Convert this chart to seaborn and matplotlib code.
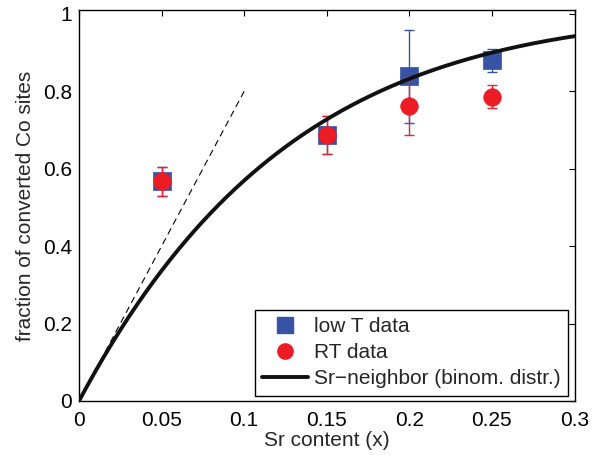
import numpy as np
import pandas as pd
import matplotlib
matplotlib.use("Agg")
import matplotlib.pyplot as plt
import seaborn as sns
from matplotlib.lines import Line2D

# ---------------- data ----------------
x_lowT = [0.05, 0.15, 0.20, 0.25]
y_lowT = [0.567, 0.687, 0.840, 0.880]
err_lowT_lo = [0.037, 0.049, 0.121, 0.030]
err_lowT_hi = [0.038, 0.050, 0.119, 0.029]

x_RT = [0.05, 0.15, 0.20, 0.25]
y_RT = [0.567, 0.687, 0.762, 0.786]
err_RT_lo = [0.037, 0.049, 0.075, 0.030]
err_RT_hi = [0.038, 0.050, 0.076, 0.031]

# model: probability of at least one Sr neighbour among n sites (binomial)
n_neighbors = 8
x_model = np.linspace(0.0, 0.3, 301)
y_model = 1.0 - (1.0 - x_model) ** n_neighbors

# initial slope line
x_slope = [0.0, 0.1]
y_slope = [0.0, 0.8]

x_ticks = [0, 0.05, 0.1, 0.15, 0.2, 0.25, 0.3]
x_ticklabels = ["0", "0.05", "0.1", "0.15", "0.2", "0.25", "0.3"]
y_ticks = [0, 0.2, 0.4, 0.6, 0.8, 1.0]
y_ticklabels = ["0", "0.2", "0.4", "0.6", "0.8", "1"]

labels = ["low T data", "RT data", "Sr\u2212neighbor (binom. distr.)"]

# ---------------- style ----------------
sns.set_theme(style="white")
plt.rcParams["font.family"] = ["Liberation Sans", "DejaVu Sans"]
plt.rcParams["font.size"] = 15

BLUE = "#3753a6"
RED = "#ec1c24"
RED_ERR = "#d8283a"

fig = plt.figure(figsize=(6.02, 4.57), dpi=100)
ax = fig.add_axes([79 / 602, 1 - 401 / 457, 495.5 / 602, 391 / 457])

df_lowT = pd.DataFrame({"x": x_lowT, "y": y_lowT})
df_RT = pd.DataFrame({"x": x_RT, "y": y_RT})
df_model = pd.DataFrame({"x": x_model, "y": y_model})
df_slope = pd.DataFrame({"x": x_slope, "y": y_slope})

# dashed initial-slope line
sns.lineplot(data=df_slope, x="x", y="y", ax=ax, color="black", lw=0.8,
             linestyle=(0, (6, 4)), zorder=2)

# error bars
ax.errorbar(x_lowT, y_lowT, yerr=[err_lowT_lo, err_lowT_hi], fmt="none",
            ecolor=BLUE, elinewidth=1.0, capsize=3.5, capthick=1.0, zorder=3)
ax.errorbar(x_RT, y_RT, yerr=[err_RT_lo, err_RT_hi], fmt="none",
            ecolor=RED_ERR, elinewidth=1.0, capsize=3.5, capthick=1.0, zorder=5)

# markers
sns.scatterplot(data=df_lowT, x="x", y="y", ax=ax, marker="s", s=150,
                color=BLUE, edgecolor=BLUE, linewidth=0.5, zorder=4)
sns.scatterplot(data=df_RT, x="x", y="y", ax=ax, marker="o", s=160,
                color=RED, edgecolor=RED, linewidth=0.5, zorder=6)

# model curve
sns.lineplot(data=df_model, x="x", y="y", ax=ax, color="#111111", lw=2.8,
             zorder=7)

ax.set_xlim(0, 0.3)
ax.set_ylim(0, 1.01)
ax.set_xticks(x_ticks)
ax.set_xticklabels(x_ticklabels)
ax.set_yticks(y_ticks)
ax.set_yticklabels(y_ticklabels)
ax.set_xlabel("Sr content (x)", fontsize=15, labelpad=1)
ax.set_ylabel("fraction of converted Co sites", fontsize=15, labelpad=6)
ax.tick_params(direction="in", length=4, width=0.8, top=True, right=True,
               labelsize=15, colors="black")
ax.tick_params(axis="x", pad=7)
ax.tick_params(axis="y", pad=5)
for s in ax.spines.values():
    s.set_color("black")
    s.set_linewidth(1.0)

handles = [
    Line2D([], [], marker="s", color=BLUE, linestyle="none", markersize=11),
    Line2D([], [], marker="o", color=RED, linestyle="none", markersize=11),
    Line2D([], [], color="#111111", lw=2.8),
]
leg = ax.legend(handles, labels, loc="lower right",
                bbox_to_anchor=(0.987, 0.0136), borderaxespad=0,
                fancybox=False, frameon=True, edgecolor="black",
                fontsize=15, handlelength=2.2, handletextpad=0.3,
                labelspacing=0.35, borderpad=0.35)
leg.get_frame().set_linewidth(1.0)
leg.get_frame().set_alpha(1)

fig.savefig("out.png", dpi=100)
